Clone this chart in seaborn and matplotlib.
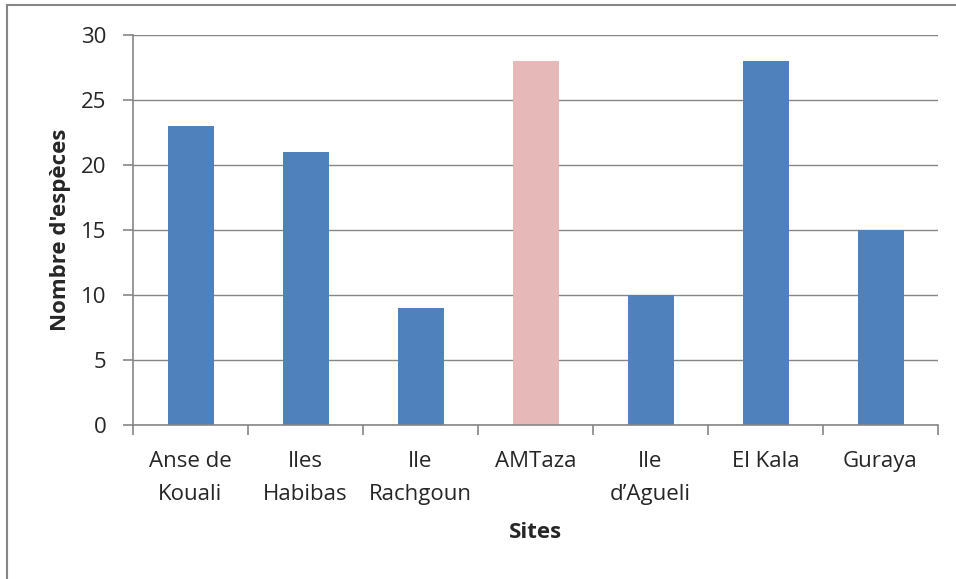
import matplotlib
matplotlib.use("Agg")
import matplotlib.pyplot as plt
import seaborn as sns
from matplotlib.patches import Rectangle
from matplotlib.ticker import FixedLocator

sites = ["Anse de\nKouali", "Iles\nHabibas", "Ile\nRachgoun", "AMTaza",
         "Ile\nd\u2019Agueli", "El Kala", "Guraya"]
especes = [23, 21, 9, 28, 10, 28, 15]
couleurs = ["#4F81BD", "#4F81BD", "#4F81BD", "#E6B9B8",
            "#4F81BD", "#4F81BD", "#4F81BD"]
y_ticks = [0, 5, 10, 15, 20, 25, 30]

sns.set_style("white")
plt.rcParams["font.family"] = ["Open Sans", "DejaVu Sans"]

grey = "#868686"
fs = 16

fig = plt.figure(figsize=(9.56, 5.79), dpi=100)
ax = fig.add_axes([133 / 956, 1 - 425 / 579, (938 - 133) / 956, (425 - 35) / 579])

sns.barplot(x=sites, y=especes, hue=sites, palette=couleurs, legend=False,
            width=0.4, saturation=1, linewidth=0, ax=ax)

ax.set_ylim(0, 30)
ax.set_xlim(-0.5, len(sites) - 0.5)
ax.set_yticks(y_ticks)
ax.yaxis.grid(True, color=grey, linewidth=1)
ax.set_axisbelow(True)

for side in ["top", "right"]:
    ax.spines[side].set_visible(False)
for side in ["left", "bottom"]:
    ax.spines[side].set_color(grey)
    ax.spines[side].set_linewidth(1.2)

# x ticks sit between the categories
ax.xaxis.set_minor_locator(FixedLocator([i - 0.5 for i in range(len(sites) + 1)]))
ax.tick_params(axis="x", which="major", length=0, pad=19, labelsize=fs)
ax.tick_params(axis="x", which="minor", length=7, width=1.2, color=grey,
               direction="out", bottom=True)
ax.tick_params(axis="y", length=7, width=1.2, color=grey, direction="out",
               left=True, pad=12, labelsize=fs)
for lab in ax.get_xticklabels():
    lab.set_linespacing(1.75)

ax.set_xlabel("Sites", fontsize=fs, fontweight="bold", labelpad=12)
ax.set_ylabel("Nombre d'espèces", fontsize=fs, fontweight="bold", labelpad=7)

# chart border (only top and left visible in the crop)
fig.patches.append(Rectangle((7 / 956, -0.1), 1.2, 1 - 5 / 579 + 0.1,
                             transform=fig.transFigure, fill=False,
                             edgecolor=grey, linewidth=1.5))

fig.savefig("out.png", dpi=100)
